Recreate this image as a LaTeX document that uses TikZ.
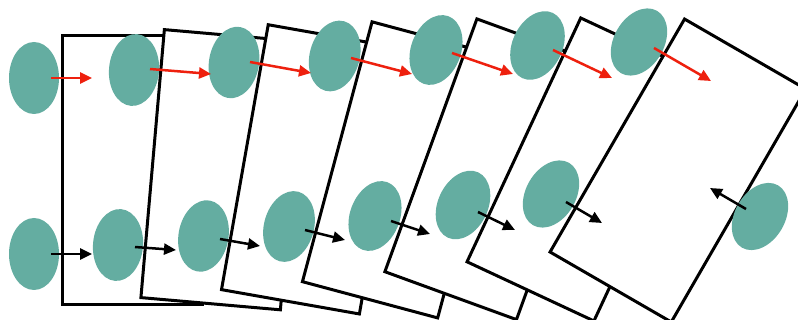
\documentclass[tikz,border=0pt]{standalone}
\usetikzlibrary{shapes.geometric,arrows.meta}
\definecolor{teal1}{RGB}{100,173,161}
\definecolor{red1}{RGB}{238,32,14}
\begin{document}
\begin{tikzpicture}[x=1pt,y=-1pt,
  frame/.style={draw=black,line width=3pt,fill=white,rectangle,inner sep=0pt,
    minimum width=140pt,minimum height=269pt,anchor=north west},
  blob/.style={ellipse,fill=teal1,draw=none,inner sep=0pt,
    minimum width=50pt,minimum height=72pt},
  redarrow/.style={draw=red1,line width=2.5pt,-{Triangle[length=12pt,width=11pt]}},
  blackarrow/.style={draw=black,line width=2.5pt,-{Triangle[length=12pt,width=11pt]}}]
\useasboundingbox (0,0) rectangle (798,320);
% outside left
\node[blob] (t1) at (34,78) {};
\node[blob] (b1) at (34,254) {};
% frame 1
\node[frame] (r1) at (61,34) {};
\node[blob,rotate=-5] (t2) at (134,70) {};
\node[blob,rotate=-5] (b2) at (118,245) {};
% frame 2
\node[frame,rotate=-5] (r2) at (163,28) {};
\node[blob,rotate=-10] (t3) at (234,62.5) {};
\node[blob,rotate=-10] (b3) at (203.5,236) {};
% frame 3
\node[frame,rotate=-10] (r3) at (267,23) {};
\node[blob,rotate=-15] (t4) at (334.7,56) {};
\node[blob,rotate=-15] (b4) at (289,226.5) {};
% frame 4
\node[frame,rotate=-15] (r4) at (371,20) {};
\node[blob,rotate=-20] (t5) at (436,50) {};
\node[blob,rotate=-20] (b5) at (375,216) {};
% frame 5
\node[frame,rotate=-20] (r5) at (476,17) {};
\node[blob,rotate=-25] (t6) at (537.5,45.5) {};
\node[blob,rotate=-25] (b6) at (463,205) {};
% frame 6
\node[frame,rotate=-25] (r6) at (580,16) {};
\node[blob,rotate=-30] (t7) at (639,42) {};
\node[blob,rotate=-30] (b7) at (551,194) {};
% frame 7
\node[frame,rotate=-30] (r7) at (684,17) {};
\node[blob,rotate=-30] (b8) at (760,216.5) {};
% arrow coordinates
\coordinate (a1s) at (51,78);   \coordinate (a1e) at (92,78);
\coordinate (a2s) at (150,69);  \coordinate (a2e) at (211,74);
\coordinate (a3s) at (250,62);  \coordinate (a3e) at (311,73);
\coordinate (a4s) at (351,58);  \coordinate (a4e) at (412,74);
\coordinate (a5s) at (452,53);  \coordinate (a5e) at (513,74);
\coordinate (a6s) at (553,50);  \coordinate (a6e) at (612,78);
\coordinate (a7s) at (654,48);  \coordinate (a7e) at (711,81);
\coordinate (c1s) at (51,254);  \coordinate (c1e) at (92,254);
\coordinate (c2s) at (135,247); \coordinate (c2e) at (176,250);
\coordinate (c3s) at (220,239); \coordinate (c3e) at (260,246);
\coordinate (c4s) at (305,230); \coordinate (c4e) at (345,240);
\coordinate (c5s) at (391,221); \coordinate (c5e) at (430,234);
\coordinate (c6s) at (478,212); \coordinate (c6e) at (515,230);
\coordinate (c7s) at (566,202); \coordinate (c7e) at (602,223);
\coordinate (c8s) at (746,209); \coordinate (c8e) at (710,188);
\foreach \i in {1,...,7}{\draw[redarrow] (a\i s) -- (a\i e);}
\foreach \i in {1,...,8}{\draw[blackarrow] (c\i s) -- (c\i e);}
\end{tikzpicture}
\end{document}
